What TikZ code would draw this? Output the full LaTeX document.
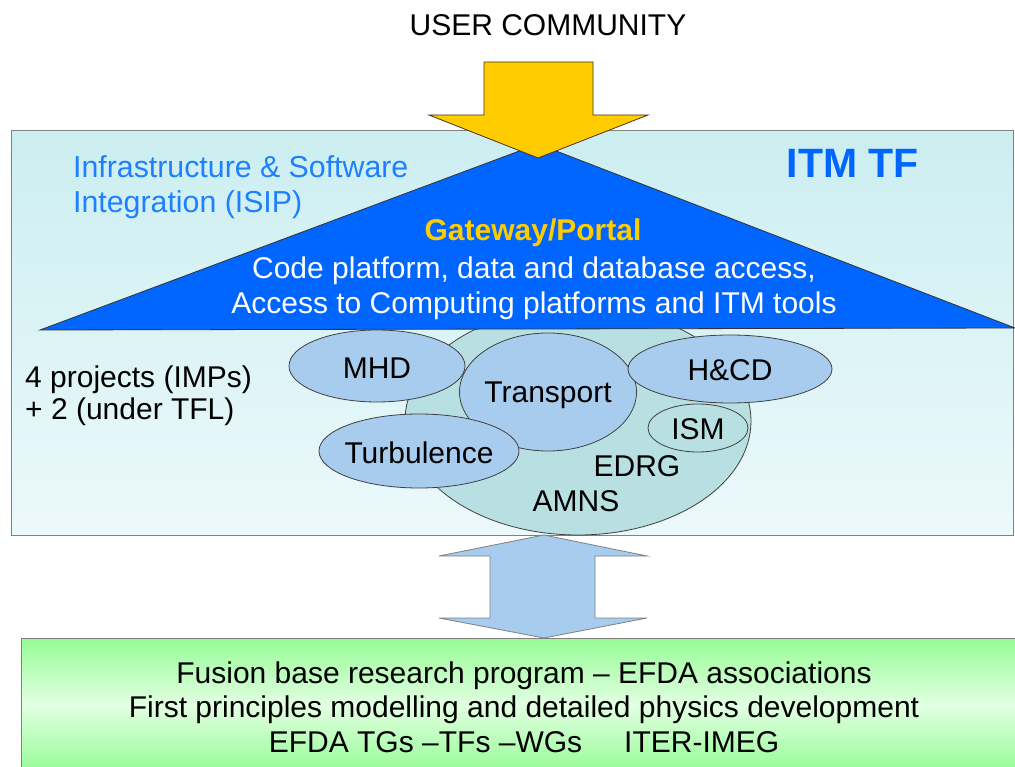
\documentclass[tikz,border=0pt]{standalone}
\usepackage{fontspec}
\setmainfont{Liberation Sans}
\usetikzlibrary{shapes.geometric}
\definecolor{boxtop}{RGB}{204,238,241}
\definecolor{boxbot}{RGB}{236,249,251}
\definecolor{boxline}{RGB}{128,128,128}
\definecolor{tri}{RGB}{0,102,255}
\definecolor{isip}{RGB}{30,128,255}
\definecolor{gold}{RGB}{255,204,0}
\definecolor{bigell}{RGB}{184,224,226}
\definecolor{smell}{RGB}{168,204,238}
\definecolor{greentop}{RGB}{150,252,150}
\definecolor{greenmid}{RGB}{226,255,226}
\tikzset{
  txt/.style={font=\fontsize{30}{36}\selectfont, inner sep=0pt},
  ell/.style={ellipse, draw=black!75, line width=0.8pt, fill=smell, inner sep=0pt},
}
\begin{document}
\begin{tikzpicture}[x=1pt,y=-1pt]
\useasboundingbox (0,0) rectangle (1015,767);
% green box (bottom edge lies below the page)
\shade[top color=greentop, bottom color=greentop, middle color=greenmid, draw=boxline, line width=1pt]
  (21,638) rectangle (1030,772);
% cyan box
\shade[top color=boxtop, bottom color=boxbot, draw=boxline, line width=1pt]
  (11,131) rectangle (1013,535);
% ellipses
\node[ell, fill=bigell, minimum width=346pt, minimum height=228pt] (big) at (578,421) {};
\node[ell, minimum width=176pt, minimum height=72pt] (mhd) at (377,366) {};
\node[ell, minimum width=177pt, minimum height=118pt] (transport) at (548,392) {};
\node[ell, minimum width=204pt, minimum height=68pt] (hcd) at (730,369) {};
\node[ell, fill=bigell, minimum width=100pt, minimum height=48pt] (ism) at (698,428) {};
\node[ell, minimum width=200pt, minimum height=74pt] (turb) at (419,451) {};
% triangle
\draw[fill=tri, draw=black!80, line width=0.8pt] (40,330) -- (538,144) -- (1015,328) -- cycle;
% yellow arrow
\draw[fill=gold, draw=black!60!brown, line width=0.8pt]
  (484,62) -- (593,62) -- (593,115) -- (648,115) -- (538,158) -- (429,115) -- (484,115) -- cycle;
% double arrow
\draw[fill=smell, draw=boxline, line width=0.8pt]
  (544,535) -- (647,556) -- (595,556) -- (595,618) -- (647,618) -- (544,638)
  -- (439,618) -- (490,618) -- (490,556) -- (439,556) -- cycle;
% texts
\node[txt] (user) at (548,25) {USER COMMUNITY};
\node[txt, text=isip, anchor=west, align=left, font=\fontsize{30.3}{35}\selectfont] (isiptxt) at (73,187.5)
  {Infrastructure \& Software\\Integration (ISIP)};
\node[txt, text=tri, font=\fontsize{41}{48}\bfseries\selectfont] (itm) at (853,163) {ITM TF};
\node[txt, text=gold, font=\fontsize{30}{36}\bfseries\selectfont] (gw) at (533,233) {Gateway/Portal};
\node[txt, text=white, align=center, font=\fontsize{30}{35}\selectfont] (code) at (534,288.5)
  {Code platform, data and database access,\\Access to Computing platforms and ITM tools};
\node[txt, anchor=west, align=left, font=\fontsize{30}{32}\selectfont] (proj) at (25,395.5)
  {4 projects (IMPs)\\+ 2 (under TFL)};
\node[txt] at ([yshift=-2pt]mhd.center) {MHD};
\node[txt] at ([yshift=-3pt]transport.center) {Transport};
\node[txt] at ([yshift=-1pt]hcd.center) {H\&CD};
\node[txt] at ([yshift=-1pt]ism.center) {ISM};
\node[txt] at ([yshift=-2pt]turb.center) {Turbulence};
\node[txt] (edrg) at (637,466) {EDRG};
\node[txt] (amns) at (576,501) {AMNS};
\node[txt, align=center, font=\fontsize{30}{34.5}\selectfont] (base) at (524,707)
  {Fusion base research program -- EFDA associations\\
   First principles modelling and detailed physics development\\
   EFDA TGs --TFs --WGs\hspace{42pt}ITER-IMEG};
\end{tikzpicture}
\end{document}
